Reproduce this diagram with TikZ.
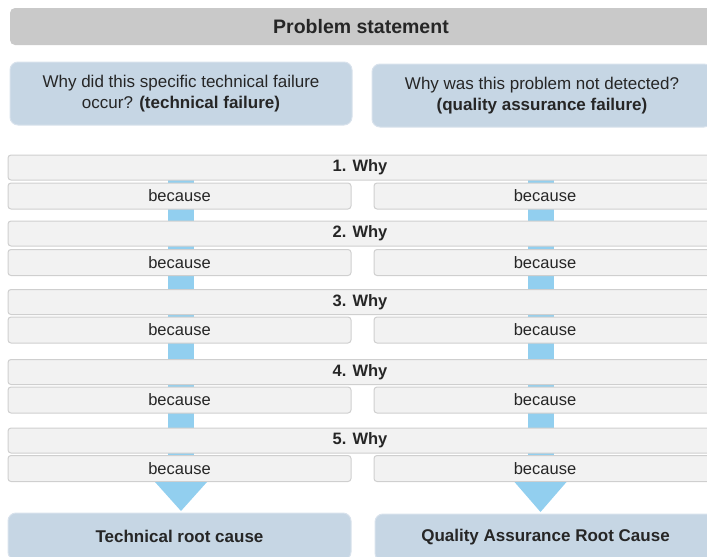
\documentclass[tikz,border=0pt]{standalone}
\usepackage{fontspec}
\setmainfont{Liberation Sans}
\usetikzlibrary{backgrounds}
\definecolor{barfill}{HTML}{F2F2F2}
\definecolor{barline}{HTML}{CFCFCF}
\definecolor{headfill}{HTML}{C9C9C9}
\definecolor{bluebox}{HTML}{C6D6E4}
\definecolor{blueline}{HTML}{D8E2EC}
\definecolor{shaftc}{HTML}{92CFEF}
\definecolor{txt}{HTML}{262626}
\begin{document}
\begin{tikzpicture}[x=1pt,y=-1pt,
  font=\fontsize{16.5}{20}\selectfont,
  base/.style={rectangle, inner sep=0pt, outer sep=0pt, text=txt, align=center},
  headbar/.style={base, fill=headfill, rounded corners=5pt, minimum width=702pt, minimum height=37pt, font=\fontsize{19.5}{22}\selectfont\bfseries},
  qbox/.style={base, draw=blueline, line width=1pt, fill=bluebox, rounded corners=8pt, minimum height=63pt, font=\fontsize{17}{21}\selectfont},
  whybar/.style={base, draw=barline, line width=1pt, fill=barfill, rounded corners=3pt, minimum width=704pt, minimum height=25pt, font=\fontsize{16.5}{20}\selectfont\bfseries},
  becbox/.style={base, draw=barline, line width=1pt, fill=barfill, rounded corners=3pt, minimum height=26pt},
  rootbox/.style={base, draw=blueline, line width=1pt, fill=bluebox, rounded corners=8pt, minimum height=47pt, font=\fontsize{17}{20}\selectfont\bfseries},
  shaft/.style={draw=shaftc, line width=26pt, line cap=butt},
  head/.style={fill=shaftc}]
\useasboundingbox (0,0) rectangle (707,557);
\clip (0,0) rectangle (707,557);

\node[headbar] (ps) at (361,26.5) {Problem statement};
\node[qbox, minimum width=342pt] (qL) at (181,93.5) {Why did this specific technical  failure\\occur? \textbf{(technical failure)}};
\node[qbox, minimum width=340pt] (qR) at (542,95.5) {Why was this problem not detected?\\\textbf{(quality assurance failure)}};

\foreach \i/\wy/\by in {1/167.5/196, 2/233.5/262.5, 3/302/330, 4/372/400, 5/440.5/468.5}{
  \node[whybar] (w\i) at (360,\wy) {\i. Why};
  \node[becbox, minimum width=343pt] (bL\i) at (179.5,\by) {because};
  \node[becbox, minimum width=342pt] (bR\i) at (545,\by) {because};
}

\node[rootbox, minimum width=343pt] (rL) at (179.5,536.5) {Technical root cause};
\node[rootbox, minimum width=341pt] (rR) at (545.5,537.5) {Quality Assurance Root Cause};

\coordinate (Ltop) at (181,160);
\coordinate (Rtop) at (540.5,160);
\begin{scope}[on background layer]
  \draw[shaft] (Ltop) -- ([yshift=29pt]Ltop |- rL.north);
  \draw[shaft] (Rtop) -- ([yshift=30pt]Rtop |- rR.north);
\end{scope}
\fill[head] ([xshift=-26pt,yshift=31pt]Ltop |- rL.north) -- ([xshift=26pt,yshift=31pt]Ltop |- rL.north) -- ([yshift=2pt]Ltop |- rL.north) -- cycle;
\fill[head] ([xshift=-26pt,yshift=32pt]Rtop |- rR.north) -- ([xshift=26pt,yshift=32pt]Rtop |- rR.north) -- ([yshift=2pt]Rtop |- rR.north) -- cycle;
\end{tikzpicture}
\end{document}
